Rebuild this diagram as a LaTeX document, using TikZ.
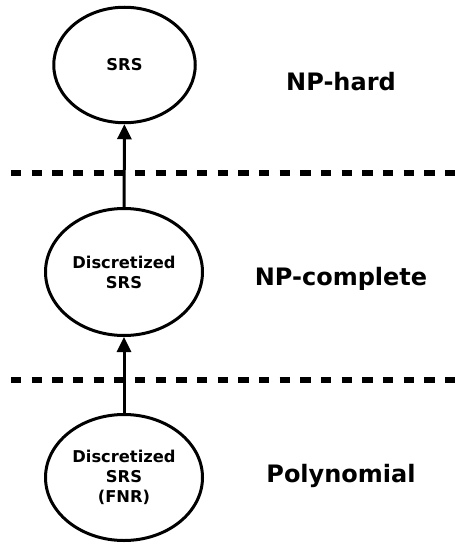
\documentclass[tikz,border=0pt]{standalone}
\usepackage{fontspec}
\setmainfont{DejaVu Sans}[BoldFont={DejaVu Sans Bold}]
\usetikzlibrary{shapes.geometric,arrows.meta}
\tikzset{
  stage/.style={ellipse, draw, line width=3pt, inner sep=0pt, align=center,
    font=\bfseries\fontsize{16.3}{20}\selectfont},
  classlabel/.style={anchor=base, inner sep=0pt, font=\bfseries\fontsize{24}{28}\selectfont},
  divider/.style={line width=5.5pt, dash pattern=on 10.33pt off 10.33pt},
  reduction/.style={line width=3pt, -{Triangle[width=14pt,length=15pt]}}
}
\begin{document}
\begin{tikzpicture}[x=1pt,y=-1pt]
\useasboundingbox (0,0) rectangle (458,545);
\node[stage, minimum width=141.5pt, minimum height=115.5pt] (srs) at (124.5,65) {SRS};
\node[stage, minimum width=157pt, minimum height=127pt] (dsrs) at (124,272) {Discretized\\SRS};
\node[stage, minimum width=157pt, minimum height=126pt] (fnr) at (124,477.5) {Discretized\\SRS\\(FNR)};
\node[classlabel] (hard) at (341,90.5) {NP-hard};
\node[classlabel] (complete) at (341,285) {NP-complete};
\node[classlabel] (poly) at (341,482) {Polynomial};
\coordinate (d1a) at (11,173);
\coordinate (d1b) at (458,173);
\coordinate (d2a) at (11,380);
\coordinate (d2b) at (458,380);
\draw[divider] (d1a) -- (d1b);
\draw[divider] (d2a) -- (d2b);
\draw[reduction] (dsrs) -- (srs);
\draw[reduction] (fnr) -- (dsrs);
\end{tikzpicture}
\end{document}
